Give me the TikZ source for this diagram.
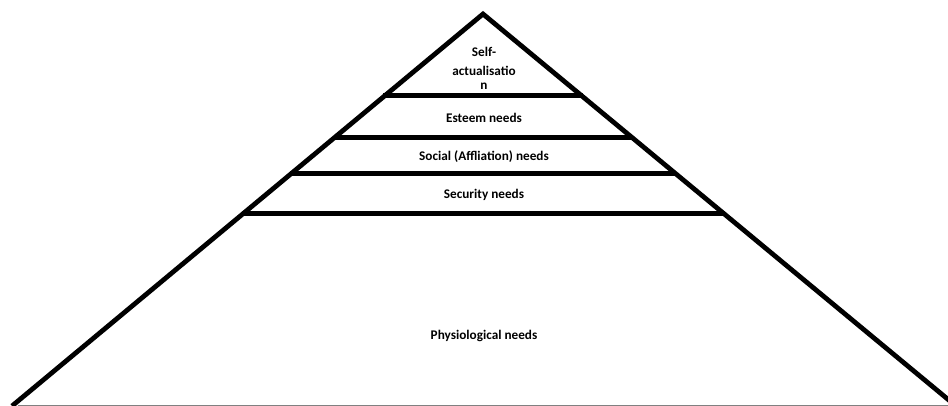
\documentclass[tikz,border=0pt]{standalone}
\usepackage{fontspec}
\setmainfont{Carlito}
\begin{document}
\begin{tikzpicture}[x=0.025cm, y=-0.025cm,
    edge/.style={line width=3.4pt, line join=miter},
    tier/.style={font=\fontsize{9.4}{9.4}\selectfont\bfseries, inner sep=0pt}]
    \useasboundingbox (0, 0) rectangle (948, 406);

    \coordinate (apex) at (483, 14);
    \coordinate (bl) at (12, 406);
    \coordinate (br) at (956, 406);

        \draw[edge] (bl) -- (apex) -- (br);
        \draw[gray, line width=0.6pt] (18, 405.3) -- (948, 405.3);

    % the four bars
    \foreach \t [count=\i] in {0.209, 0.314, 0.406, 0.508} {
        \path (apex) -- (bl) coordinate[pos=\t] (l\i);
        \path (apex) -- (br) coordinate[pos=\t] (r\i);
        \draw[line width=3.6pt] ([xshift=-1pt]l\i) -- ([xshift=1pt]r\i);
    }

        \node[tier, align=center] (self) at (484, 68) {Self-\\[4.5pt]actualisatio\\n};
        \node[tier] (esteem) at (484, 118) {Esteem needs};
        \node[tier] (social) at (484, 157) {Social (Affliation) needs};
        \node[tier] (security) at (484, 195) {Security needs};
        \node[tier] (physio) at (484, 336) {Physiological needs};
\end{tikzpicture}
\end{document}
